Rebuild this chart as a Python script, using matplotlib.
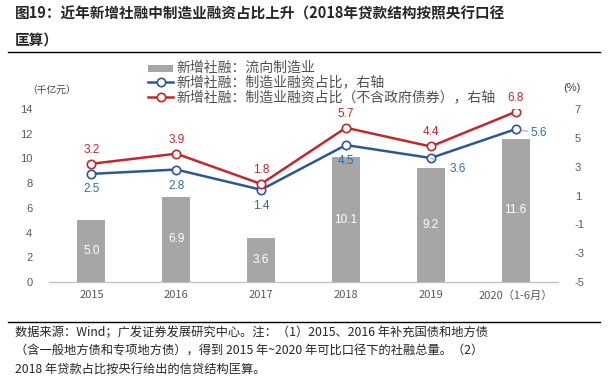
import matplotlib
matplotlib.use("Agg")
import matplotlib.pyplot as plt
from matplotlib.lines import Line2D
from matplotlib.patches import Rectangle

plt.rcParams['font.family'] = ['Noto Sans CJK SC', 'DejaVu Sans']
plt.rcParams['axes.unicode_minus'] = False

years = ["2015", "2016", "2017", "2018", "2019", "2020（1-6月）"]
bar_vals = [5.0, 6.9, 3.6, 10.1, 9.2, 11.6]
blue_vals = [2.5, 2.8, 1.4, 4.5, 3.6, 5.6]
red_vals = [3.2, 3.9, 1.8, 5.7, 4.4, 6.8]
legend_labels = ["新增社融：流向制造业",
                 "新增社融：制造业融资占比，右轴",
                 "新增社融：制造业融资占比（不含政府债券），右轴"]

BAR = "#A6A6A6"
BLUE = "#2F5597"
BLUE_TXT = "#2E6DA4"
RED = "#C0282D"
TICK = "#595959"
NUM = "Liberation Sans"

W, H = 608, 384
fig = plt.figure(figsize=(W / 100, H / 100), dpi=100)


def fx(px):
    return px / W


def fy(py):
    return 1 - py / H


# title
fig.text(fx(15), fy(14), "图19：近年新增社融中制造业融资占比上升（2018年贷款结构按照央行口径",
         fontsize=10.5, fontweight="bold", color="#262626", va="center", ha="left")
fig.text(fx(15), fy(40), "匡算）",
         fontsize=10.5, fontweight="bold", color="#262626", va="center", ha="left")
fig.add_artist(Line2D([fx(8), fx(600)], [fy(52)] * 2, color="black", lw=1))

ax = fig.add_axes([fx(49), fy(282), 509 / W, 173 / H])
ax2 = ax.twinx()

x = list(range(len(years)))
ax.bar(x, bar_vals, width=0.33, color=BAR, zorder=2)
ax.set_xlim(-0.5, 5.5)
ax.set_ylim(0, 14)
ax.set_yticks(range(0, 15, 2))
ax2.set_ylim(-5, 7)
ax2.set_yticks(range(-5, 8, 2))

for a in (ax, ax2):
    for s in ("top", "left", "right"):
        a.spines[s].set_visible(False)
    a.spines["bottom"].set_color("#BFBFBF")
    a.tick_params(length=0, colors=TICK, labelsize=8)
    for lab in a.get_yticklabels():
        lab.set_fontfamily(NUM)

ax.tick_params(axis="y", pad=12)
ax2.tick_params(axis="y", pad=12)
ax.set_xticks(x)
ax.set_xticklabels(years, fontsize=8, color=TICK)
ax.tick_params(axis="x", pad=6)

for i, v in enumerate(bar_vals):
    ax.text(i, v / 2, f"{v:.1f}", color="white", ha="center", va="center",
            fontsize=8.5, fontfamily=NUM)

ax2.plot(x, blue_vals, color=BLUE, lw=1.8, marker="o", ms=6,
         mfc="white", mec=BLUE, mew=1.2, zorder=3)
ax2.plot(x, red_vals, color=RED, lw=1.8, marker="o", ms=6,
         mfc="white", mec=RED, mew=1.2, zorder=4)

blue_off = [(0, -15), (0, -16), (0, -16), (0, -16), (27, -11), (23, -4)]
for i, v in enumerate(blue_vals):
    dx, dy = blue_off[i]
    kw = {}
    if dx:
        kw["arrowprops"] = dict(arrowstyle="-", color="#A6A6A6", lw=0.8,
                                shrinkA=10, shrinkB=4)
    ax2.annotate(f"{v:.1f}", (i, v), xytext=(dx, dy), textcoords="offset pixels",
                 ha="center", va="center", color=BLUE_TXT, fontsize=8.5,
                 fontfamily=NUM, **kw)

for i, v in enumerate(red_vals):
    ax2.annotate(f"{v:.1f}", (i, v), xytext=(0, 14), textcoords="offset pixels",
                 ha="center", va="center", color=RED, fontsize=8.5, fontfamily=NUM)

# axis unit labels
fig.text(fx(52), fy(90), "（千亿元）", fontsize=7, color="#404040",
         ha="center", va="center")
fig.text(fx(572), fy(88), "(%)", fontsize=8, color="#404040",
         ha="center", va="center", fontfamily=NUM)

# legend, drawn by hand
rows_y = [68, 82, 97]
fig.add_artist(Rectangle((fx(148), fy(rows_y[0] + 3.5)), 25 / W, 7 / H,
                         facecolor=BAR, edgecolor="none"))
for yy, col in ((rows_y[1], BLUE), (rows_y[2], RED)):
    fig.add_artist(Line2D([fx(148), fx(173)], [fy(yy)] * 2, color=col, lw=1.8))
    fig.add_artist(Line2D([fx(160.5)], [fy(yy)], marker="o", ms=6, mfc="white",
                          mec=col, mew=1.2, lw=0))
for yy, lab in zip(rows_y, legend_labels):
    fig.text(fx(176), fy(yy), lab, fontsize=10, color="#505050",
             ha="left", va="center")

# footer
fig.add_artist(Line2D([fx(8), fx(600)], [fy(322)] * 2, color="black", lw=1))
foot = ["数据来源：Wind；广发证券发展研究中心。注：（1）2015、2016 年补充国债和地方债",
        "（含一般地方债和专项地方债），得到 2015 年~2020 年可比口径下的社融总量。（2）",
        "2018 年贷款占比按央行给出的信贷结构匡算。"]
for k, line in enumerate(foot):
    fig.text(fx(15), fy(333 + 18 * k), line, fontsize=8.8, color="#262626",
             ha="left", va="center")

fig.savefig("out.png", dpi=100)
